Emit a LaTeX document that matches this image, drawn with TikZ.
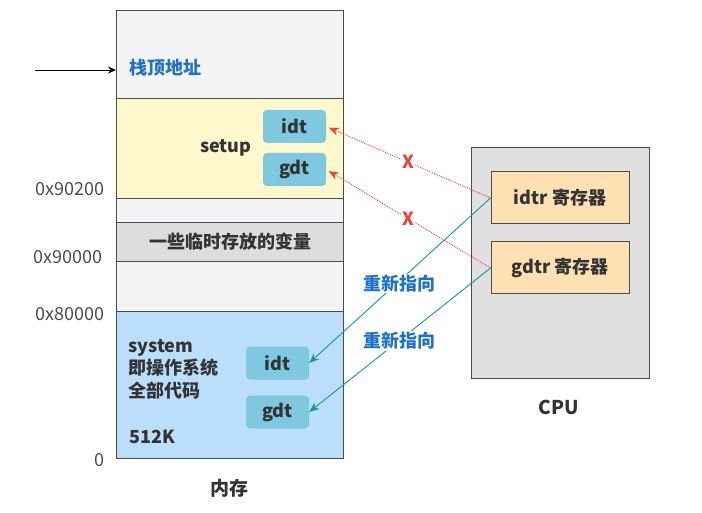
\documentclass[tikz,border=0pt]{standalone}
\usepackage{fontspec}
\usepackage{xcolor}
\usepackage{tikz}
\usetikzlibrary{shapes,arrows,arrows.meta,positioning}
\setmainfont{Noto Sans CJK SC}
\definecolor{memgray}{RGB}{244, 244, 246}
\definecolor{vargray}{RGB}{221, 221, 221}
\definecolor{setupyellow}{RGB}{255, 248, 204}
\definecolor{sysblue}{RGB}{187, 222, 251}
\definecolor{tblue}{RGB}{126, 200, 224}
\definecolor{regorange}{RGB}{255, 224, 178}
\definecolor{cpugray}{RGB}{224, 224, 224}
\definecolor{labelblue}{RGB}{30, 115, 200}
\definecolor{xred}{RGB}{232, 68, 58}
\definecolor{pointteal}{RGB}{18, 150, 165}

\begin{document}
\begin{tikzpicture}[
    x=1pt, y=-1pt,
    every node/.style={align=center, font=\fontsize{18}{21}\selectfont, text=black!80},
    bold/.style={font=\fontsize{18}{21}\selectfont\bfseries},
    segment/.style={rectangle, anchor=north west, minimum width=227pt, draw=black!70, line width=1pt, inner sep=0pt},
    table/.style={rectangle, rounded corners=4pt, fill=tblue, minimum width=63pt, minimum height=33pt, inner sep=0pt, bold},
    register/.style={rectangle, draw=black!70, line width=1pt, fill=regorange, minimum width=138pt, minimum height=52pt, bold},
    addr/.style={anchor=east, text=black!70},
    arrow/.style={line width=0.8pt,-{Stealth[length=8pt,width=7pt]}},
    wrongptr/.style={densely dotted, line width=0.9pt, draw=xred, -{Stealth[length=10pt,width=8pt]}, shorten >=3pt},
    newptr/.style={draw=pointteal, line width=0.9pt, -{Stealth[length=10pt,width=8pt]}},
    tag/.style={bold, fill=white, inner sep=1pt}
]
\useasboundingbox (0,0) rectangle (702,513);

% Memory layout
\node[segment, fill=memgray, minimum height=88pt] (top) at (116,10) {};
\node[segment, fill=setupyellow, minimum height=100pt] (setup) at (116,98) {};
\node[segment, fill=memgray, minimum height=24pt] (gap1) at (116,198) {};
\node[segment, fill=vargray, minimum height=39pt] (vars) at (116,222) {};
\node[segment, fill=memgray, minimum height=50pt] (gap2) at (116,261) {};
\node[segment, fill=sysblue, minimum height=147pt] (system) at (116,311) {};

\node[anchor=west, text=labelblue, bold] (sptext) at (126,68) {栈顶地址};
\node[anchor=east, bold] (setuptext) at (255,148) {setup};
\node[bold] (varstext) at (vars.center) {一些临时存放的变量};
\node[anchor=north west, align=left, font=\fontsize{18}{22.5}\selectfont\bfseries] (systext) at (125,336) {system\\即操作系统\\全部代码};
\node[anchor=west, bold] (size) at (126,437) {512K};
\node[bold, font=\fontsize{19}{21}\selectfont\bfseries] (memtext) at (229,488) {内存};

% Tables
\node[table] (oldidt) at (294.5,126.5) {idt};
\node[table] (oldgdt) at (294.5,169.5) {gdt};
\node[table] (newidt) at (277.5,363) {idt};
\node[table] (newgdt) at (277.5,412) {gdt};

% Addresses
\node[addr] (a90200) at (108,189) {0x90200};
\node[addr] (a90000) at (106,257) {0x90000};
\node[addr] (a80000) at (108,314) {0x80000};
\node[addr] (a0) at (108,460) {0};

\coordinate (sp) at (35,70);
\draw[arrow] (sp) -- (sp -| top.west);

% CPU
\node[rectangle, draw=black!70, line width=1pt, fill=cpugray, minimum width=178pt, minimum height=230pt] (cpu) at (560,263) {};
\node[register] (idtr) at (560,198) {idtr 寄存器};
\node[register] (gdtr) at (560,268) {gdtr 寄存器};
\node[bold, font=\fontsize{19}{21}\selectfont\bfseries] (cputext) at (559,407) {CPU};

% Pointers
\draw[wrongptr] (idtr.west) -- node[tag, text=xred] (x1) {X} (oldidt.east);
\draw[wrongptr] (gdtr.west) -- node[tag, text=xred] (x2) {X} (oldgdt.east);
\draw[newptr] (idtr.west) -- node[tag, text=labelblue, yshift=-3pt] (re1) {重新指向} (newidt.east);
\draw[newptr] (gdtr.west) -- node[tag, text=labelblue, yshift=-1pt] (re2) {重新指向} (newgdt.east);

\end{tikzpicture}
\end{document}
